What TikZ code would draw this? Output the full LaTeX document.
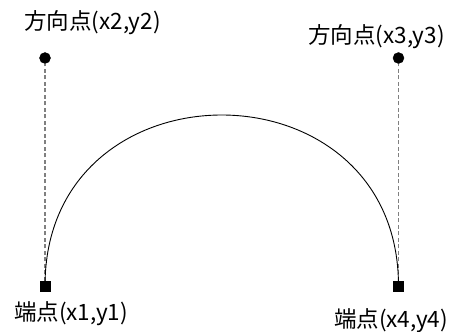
\documentclass[tikz,border=0pt]{standalone}
\usepackage{fontspec}
\setmainfont{Noto Sans CJK JP}
\begin{document}
\begin{tikzpicture}[x=1pt,y=-1pt,
  endpt/.style={draw,fill,rectangle,minimum size=10pt,inner sep=0pt},
  dirpt/.style={draw,fill,circle,minimum size=11pt,inner sep=0pt},
  guide/.style={gray,line width=1.4pt,dash pattern=on 4pt off 2.5pt},
  lbl/.style={inner sep=0pt,font=\fontsize{22.5}{26}\selectfont}]
  \useasboundingbox (0,0) rectangle (451,332);
  % points
  \node[endpt] (p1) at (45,286) {};
  \node[dirpt] (p2) at (45,58) {};
  \node[dirpt] (p3) at (398.5,58) {};
  \node[endpt] (p4) at (398.5,286) {};
  % guides and curve
  \draw[guide] (p1) -- (p2);
  \draw[guide] (p4) -- (p3);
  \draw[line width=0.9pt] (p1.center) .. controls (p2.center) and (p3.center) .. (p4.center);
  % labels
  \node[lbl] (l2) at (92.5,23) {方向点(x2,y2)};
  \node[lbl] (l3) at (376.5,37) {方向点(x3,y3)};
  \node[lbl] (l1) at (71,314) {端点(x1,y1)};
  \node[lbl] (l4) at (391,321) {端点(x4,y4)};
\end{tikzpicture}
\end{document}
